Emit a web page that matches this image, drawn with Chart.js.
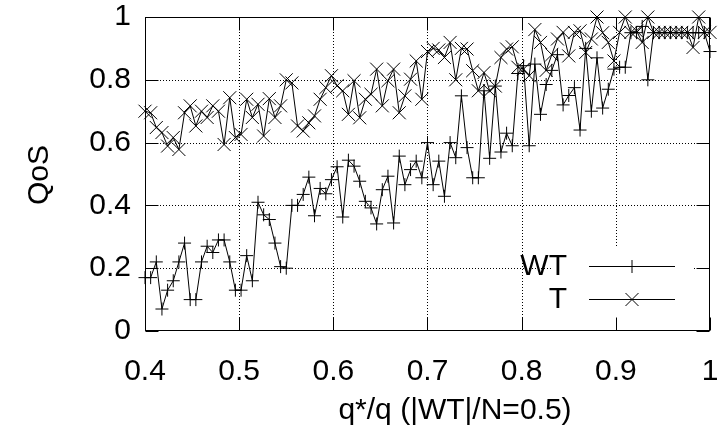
<!DOCTYPE html>
<html><head><meta charset="utf-8">
<script src="https://cdn.jsdelivr.net/npm/chart.js@4/dist/chart.umd.min.js"></script>
<style>html,body{margin:0;padding:0;background:#fff;}#wrap{width:720px;height:436px;}</style>
</head><body><div id="wrap"><canvas id="c" width="720" height="436"></canvas></div>
<script>
const xValues = [
0.4,0.406,0.412,0.418,0.424,0.43,0.436,0.442,0.448,0.454,
0.46,0.466,0.472,0.478,0.484,0.49,0.496,0.502,0.508,0.514,
0.52,0.526,0.532,0.538,0.544,0.55,0.556,0.562,0.568,0.574,
0.58,0.586,0.592,0.598,0.604,0.61,0.616,0.622,0.628,0.634,
0.64,0.646,0.652,0.658,0.664,0.67,0.676,0.682,0.688,0.694,
0.7,0.706,0.712,0.718,0.724,0.73,0.736,0.742,0.748,0.754,
0.76,0.766,0.772,0.778,0.784,0.79,0.796,0.802,0.808,0.814,
0.82,0.826,0.832,0.838,0.844,0.85,0.856,0.862,0.868,0.874,
0.88,0.886,0.892,0.898,0.904,0.91,0.916,0.922,0.928,0.934,
0.94,0.946,0.952,0.958,0.964,0.97,0.976,0.982,0.988,0.994,
1.0];
const wtValues = [
0.17,0.17,0.22,0.07,0.13,0.16,0.22,0.28,0.10,0.10,
0.22,0.27,0.25,0.29,0.29,0.22,0.13,0.13,0.24,0.16,
0.41,0.37,0.355,0.28,0.205,0.20,0.40,0.40,0.435,0.49,
0.367,0.454,0.437,0.482,0.523,0.363,0.544,0.525,0.477,0.413,
0.392,0.341,0.45,0.493,0.344,0.557,0.466,0.514,0.541,0.488,
0.60,0.466,0.541,0.429,0.60,0.552,0.749,0.584,0.488,0.488,
0.765,0.55,0.78,0.57,0.63,0.59,0.82,0.845,0.59,0.85,
0.69,0.785,0.83,0.88,0.72,0.75,0.775,0.64,0.90,0.70,
0.87,0.71,0.77,0.834,0.84,0.84,0.95,0.95,0.97,0.80,
0.95,0.95,0.95,0.95,0.95,0.95,0.95,0.95,0.95,0.95,
0.89];
const tValues = [
0.70,0.695,0.648,0.632,0.589,0.616,0.578,0.695,0.717,0.653,
0.70,0.68,0.717,0.70,0.594,0.743,0.616,0.626,0.738,0.68,
0.722,0.621,0.74,0.68,0.717,0.80,0.79,0.653,0.637,0.663,
0.685,0.738,0.775,0.813,0.781,0.765,0.69,0.797,0.679,0.738,
0.754,0.834,0.717,0.797,0.834,0.695,0.749,0.802,0.86,0.738,
0.89,0.90,0.895,0.871,0.919,0.80,0.90,0.898,0.829,0.765,
0.823,0.765,0.78,0.871,0.898,0.905,0.84,0.834,0.813,0.96,
0.919,0.83,0.88,0.93,0.951,0.876,0.951,0.956,0.887,0.93,
1.0,0.95,0.919,0.86,0.951,1.0,0.951,0.956,0.919,1.0,
0.951,0.951,0.951,0.951,0.951,0.951,0.951,0.903,1.0,0.951,
0.951];
const xTickValues = [0.4,0.5,0.6,0.7,0.8,0.9,1.0];
const xTickLabels = ['0.4','0.5','0.6','0.7','0.8','0.9','1'];
const yTickValues = [0,0.2,0.4,0.6,0.8,1.0];
const yTickLabels = ['0','0.2','0.4','0.6','0.8','1'];
const seriesNames = ['WT','T'];
const xTitle = 'q*/q (|WT|/N=0.5)';
const yTitle = 'QoS';

const FAMILY = '"Liberation Sans", Arial, Helvetica, sans-serif';
const FSIZE = 30;

function pts(xs, ys){ return xs.map((x,i)=>({x:x, y:ys[i]})); }

function drawMarker(ctx, style, x, y){
  ctx.beginPath();
  const r = 6.5;
  if (style === 'cross') {
    ctx.moveTo(x - r, y); ctx.lineTo(x + r, y);
    ctx.moveTo(x, y - r); ctx.lineTo(x, y + r);
  } else {
    ctx.moveTo(x - r, y - r); ctx.lineTo(x + r, y + r);
    ctx.moveTo(x - r, y + r); ctx.lineTo(x + r, y - r);
  }
  ctx.stroke();
}

const decor = {
  id: 'decor',
  beforeDatasetsDraw(chart){
    const {ctx, chartArea:a, scales:{x, y}} = chart;
    ctx.save();
    ctx.strokeStyle = '#000';
    ctx.lineWidth = 1;
    ctx.setLineDash([1, 2]);
    xTickValues.forEach(v=>{
      const px = Math.round(x.getPixelForValue(v)) + 0.5;
      if (px <= a.left + 1 || px >= a.right - 1) return;
      ctx.beginPath(); ctx.moveTo(px, a.top); ctx.lineTo(px, a.bottom); ctx.stroke();
    });
    yTickValues.forEach(v=>{
      const py = Math.round(y.getPixelForValue(v)) + 0.5;
      if (py <= a.top + 1 || py >= a.bottom - 1) return;
      ctx.beginPath(); ctx.moveTo(a.left, py); ctx.lineTo(a.right, py); ctx.stroke();
    });
    ctx.setLineDash([]);
    ctx.fillStyle = '#fff';
    ctx.fillRect(552, 248, 141, a.bottom - 248 - 1);
    ctx.restore();
  },
  afterDatasetsDraw(chart){
    const {ctx, chartArea:a, scales:{x, y}} = chart;
    ctx.save();
    ctx.strokeStyle = '#000';
    ctx.lineWidth = 1;
    const L = Math.round(a.left) + 0.5, R = Math.round(a.right) - 0.5;
    const T = Math.round(a.top) + 0.5, B = Math.round(a.bottom) - 0.5;
    ctx.strokeRect(L, T, R - L, B - T);
    const tl = 13;
    ctx.beginPath();
    xTickValues.forEach(v=>{
      const px = Math.round(x.getPixelForValue(v)) + 0.5;
      ctx.moveTo(px, B); ctx.lineTo(px, B - tl);
      ctx.moveTo(px, T); ctx.lineTo(px, T + tl);
    });
    yTickValues.forEach(v=>{
      const py = Math.round(y.getPixelForValue(v)) + 0.5;
      ctx.moveTo(L, py); ctx.lineTo(L + tl, py);
      ctx.moveTo(R, py); ctx.lineTo(R - tl, py);
    });
    ctx.stroke();

    ctx.font = FSIZE + 'px ' + FAMILY;
    ctx.fillStyle = '#000';
    ctx.textAlign = 'right';
    ctx.textBaseline = 'middle';
    const rows = [{name: seriesNames[0], style:'cross', y:266}, {name: seriesNames[1], style:'crossRot', y:299}];
    rows.forEach(r=>{
      ctx.fillText(r.name, 567, r.y + 1);
      ctx.beginPath(); ctx.moveTo(589, r.y + 0.5); ctx.lineTo(675, r.y + 0.5); ctx.stroke();
      drawMarker(ctx, r.style, 632, r.y + 0.5);
    });

    ctx.textAlign = 'center';
    ctx.textBaseline = 'middle';
    ctx.fillText(xTitle, 455, 411);
    ctx.translate(40, 175);
    ctx.rotate(-Math.PI / 2);
    ctx.fillText(yTitle, 0, 0);
    ctx.restore();
  }
};

new Chart(document.getElementById('c'), {
  type: 'scatter',
  data: {
    datasets: [
      { label: seriesNames[0], data: pts(xValues, wtValues), showLine: true, borderColor: '#000', borderWidth: 1,
        pointStyle: 'cross', pointRadius: 6.5, pointBorderColor: '#000', pointBorderWidth: 1, pointBackgroundColor: '#000', clip: false, tension: 0 },
      { label: seriesNames[1], data: pts(xValues, tValues), showLine: true, borderColor: '#000', borderWidth: 1,
        pointStyle: 'crossRot', pointRadius: 9.2, pointBorderColor: '#000', pointBorderWidth: 1, pointBackgroundColor: '#000', clip: false, tension: 0 }
    ]
  },
  options: {
    responsive: false,
    animation: false,
    devicePixelRatio: 1,
    layout: { autoPadding: false, padding: { top: 17, right: 10, left: 0, bottom: 0 } },
    plugins: { legend: { display: false }, tooltip: { enabled: false } },
    scales: {
      x: {
        type: 'linear', min: 0.4, max: 1,
        afterFit(s){ s.height = 105; s.paddingLeft = 0; s.paddingRight = 0; },
        grid: { display: false, drawTicks: false }, border: { display: false },
        afterBuildTicks(s){ s.ticks = xTickValues.map(v=>({value:v})); },
        ticks: { color: '#000', font: { family: FAMILY, size: FSIZE }, padding: 23, maxRotation: 0, autoSkip: false,
          callback: (v, i) => xTickLabels[i] }
      },
      y: {
        type: 'linear', min: 0, max: 1,
        afterFit(s){ s.width = 145; s.paddingTop = 0; s.paddingBottom = 0; },
        grid: { display: false, drawTicks: false }, border: { display: false },
        afterBuildTicks(s){ s.ticks = yTickValues.map(v=>({value:v})); },
        ticks: { color: '#000', font: { family: FAMILY, size: FSIZE }, padding: 14,
          callback: (v, i) => yTickLabels[i] }
      }
    }
  },
  plugins: [decor]
});
</script>
</body></html>
